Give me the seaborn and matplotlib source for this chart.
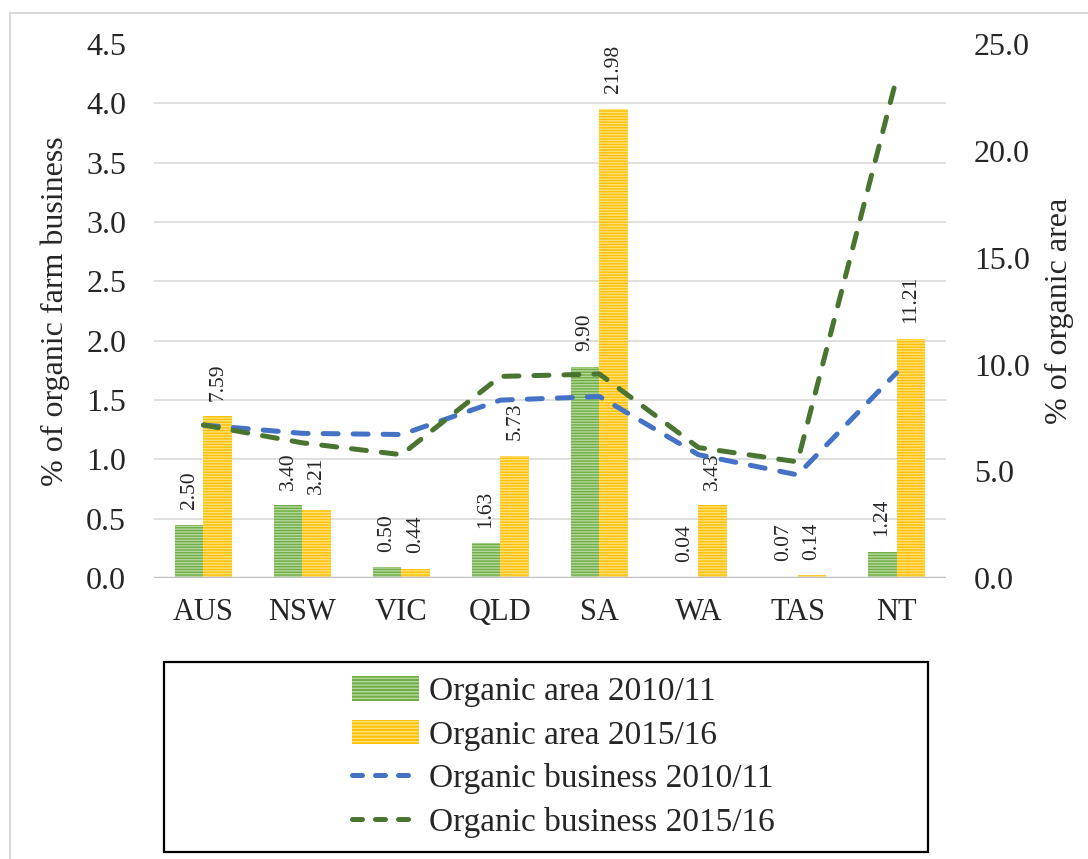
import numpy as np
import pandas as pd
import matplotlib
matplotlib.use("Agg")
import matplotlib.pyplot as plt
from matplotlib.patches import Rectangle, Patch
from matplotlib.lines import Line2D
from matplotlib.ticker import MultipleLocator, FormatStrFormatter
import seaborn as sns

regions = ['AUS', 'NSW', 'VIC', 'QLD', 'SA', 'WA', 'TAS', 'NT']
area_2010 = [2.50, 3.40, 0.50, 1.63, 9.90, 0.04, 0.07, 1.24]
area_2015 = [7.59, 3.21, 0.44, 5.73, 21.98, 3.43, 0.14, 11.21]
business_2010 = [1.29, 1.22, 1.21, 1.50, 1.53, 1.04, 0.87, 1.73]
business_2015 = [1.29, 1.14, 1.04, 1.70, 1.72, 1.10, 0.98, 4.21]
years = ['Organic area 2010/11', 'Organic area 2015/16']
line_names = ['Organic business 2010/11', 'Organic business 2015/16']

bar_colors = ['#70AD47', '#FFC000']
stripe_colors = ['#B4D89C', '#FFDF7A']
line_colors = ['#4472C4', '#4A7530']

sns.set_theme(style='white')
plt.rcParams['font.family'] = ['Liberation Serif', 'DejaVu Serif']
plt.rcParams['hatch.linewidth'] = 1.0

df = pd.DataFrame({
    'region': regions * 2,
    'area': area_2010 + area_2015,
    'year': [years[0]] * len(regions) + [years[1]] * len(regions),
})

fig = plt.figure(figsize=(10.88, 8.59), dpi=100)
ax = fig.add_axes([0.1415, 0.327, 0.728, 0.6216])
ax2 = ax.twinx()

# bars on the primary axes (right scale), lines on the twin (left scale)
sns.barplot(data=df, x='region', y='area', hue='year', palette=bar_colors,
            saturation=1, width=0.58, ax=ax, legend=False)
for i, cont in enumerate(ax.containers):
    for p in cont:
        p.set_hatch('------')
        p.set_edgecolor(stripe_colors[i])
        p.set_linewidth(0)
    ax.bar_label(cont, labels=['%.2f' % v for v in (area_2010, area_2015)[i]],
                 rotation=90, padding=11, fontsize=15.5)

for vals, col in zip([business_2010, business_2015], line_colors):
    sns.lineplot(x=regions, y=vals, ax=ax2, color=col, linewidth=3.6,
                 sort=False)
for ln in ax2.lines:
    ln.set_dashes((3, 3))
    ln.set_dash_capstyle('round')

ax.set_ylim(0, 25)
ax.yaxis.set_major_locator(MultipleLocator(5))
ax.yaxis.set_minor_locator(MultipleLocator(25 / 9))
ax.yaxis.set_major_formatter(FormatStrFormatter('%.1f'))
ax.yaxis.tick_right()
ax.yaxis.set_label_position('right')
ax.grid(which='minor', axis='y', color='#D9D9D9', linewidth=1.2)
ax.grid(which='major', axis='y', visible=False)
ax.tick_params(axis='y', which='both', length=0, labelsize=23, pad=20)
ax.tick_params(axis='x', length=0, labelsize=22, pad=14)
ax.set_xlabel('')
ax.set_ylabel('% of organic area', fontsize=23)
ax.yaxis.set_label_coords(1.125, 0.5)
ax.set_xlim(-0.5, len(regions) - 0.5)

ax2.set_ylim(0, 4.5)
ax2.yaxis.set_major_locator(MultipleLocator(0.5))
ax2.yaxis.set_major_formatter(FormatStrFormatter('%.1f'))
ax2.yaxis.tick_left()
ax2.yaxis.set_label_position('left')
ax2.tick_params(axis='y', length=0, labelsize=23, pad=20)
ax2.set_ylabel('% of organic farm business', fontsize=23)
ax2.yaxis.set_label_coords(-0.106, 0.5)

for a in (ax, ax2):
    for s in a.spines.values():
        s.set_visible(False)
ax.axhline(0, color='#BFBFBF', linewidth=2.5, zorder=3)

handles = [Patch(facecolor=bar_colors[i], edgecolor=stripe_colors[i],
                 hatch='-----', linewidth=0) for i in range(2)]
handles += [Line2D([], [], color=c, linewidth=3.6, dashes=(2, 2.6),
                   dash_capstyle='round') for c in line_colors]
leg = fig.legend(handles, years + line_names, loc='center',
                 bbox_to_anchor=(0.518, 0.1187), frameon=False, fontsize=24,
                 handlelength=2.0, handleheight=0.75, labelspacing=0.38,
                 handletextpad=0.3)

fig.patches.append(Rectangle((164 / 1088, 7 / 859), 764 / 1088, 190 / 859,
                             transform=fig.transFigure, fill=False,
                             edgecolor='black', linewidth=1.6))
fig.patches.append(Rectangle((10 / 1088, -0.01), 1.0, 846 / 859 + 0.01,
                             transform=fig.transFigure, fill=False,
                             edgecolor='#D9D9D9', linewidth=1.5))

fig.savefig('out.png', dpi=100)
